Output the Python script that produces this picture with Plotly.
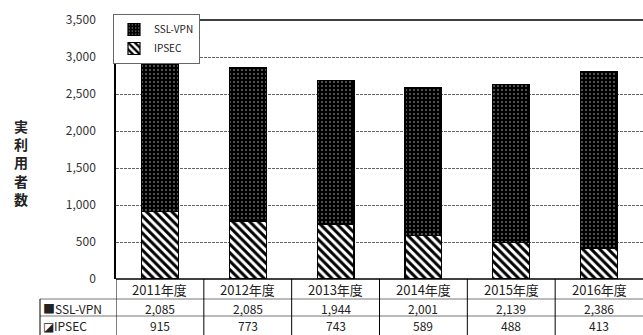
import plotly.graph_objects as go

# Fiscal years and actual user counts per connection type
years = ["2011年度", "2012年度", "2013年度", "2014年度", "2015年度", "2016年度"]
ssl_vpn = [2085, 2085, 1944, 2001, 2139, 2386]
ipsec = [915, 773, 743, 589, 488, 413]
y_ticks = [0, 500, 1000, 1500, 2000, 2500, 3000, 3500]

W, H = 643, 335
ML, MR, MT, MB = 116, 0, 20, 56
PW, PH = W - ML - MR, H - MT - MB

FONT = "Noto Sans CJK JP"


def py(px):
    """pixel row (from top of page) -> paper y"""
    return (H - MB - px) / PH


def px_x(px):
    """pixel column -> paper x"""
    return (px - ML) / PW


fig = go.Figure()

fig.add_trace(go.Bar(
    name="IPSEC", x=years, y=ipsec, width=0.42,
    marker=dict(
        color="white",
        line=dict(color="black", width=1.2),
        pattern=dict(shape="\\", fillmode="replace", bgcolor="white",
                     fgcolor="black", size=6, solidity=0.5),
    ),
))
fig.add_trace(go.Bar(
    name="SSL-VPN", x=years, y=ssl_vpn, width=0.42,
    marker=dict(
        color="black",
        line=dict(color="black", width=1.2),
        pattern=dict(shape=".", fillmode="replace", bgcolor="black",
                     fgcolor="#bbbbbb", size=4, solidity=0.12),
    ),
))

shapes = []
# table horizontal rules
shapes.append(dict(type="line", xref="paper", yref="paper", x0=0, x1=1,
                   y0=py(279), y1=py(279), line=dict(color="black", width=1.5)))
for r in (299, 316):
    shapes.append(dict(type="line", xref="paper", yref="paper", x0=px_x(40), x1=1,
                       y0=py(r), y1=py(r), line=dict(color="#777777", width=1)))
# table vertical rules at category boundaries
for i in range(len(years)):
    shapes.append(dict(type="line", xref="x", yref="paper", x0=i - 0.5, x1=i - 0.5,
                       y0=py(279), y1=py(H + 2), line=dict(color="black", width=1)))
# label column left edge
shapes.append(dict(type="line", xref="paper", yref="paper", x0=px_x(40), x1=px_x(40),
                   y0=py(299), y1=py(H + 2), line=dict(color="black", width=1)))
# top frame line
shapes.append(dict(type="line", xref="paper", yref="paper", x0=0, x1=1,
                   y0=1, y1=1, line=dict(color="black", width=1.5)))

annotations = []
for i, yr in enumerate(years):
    annotations.append(dict(x=yr, xref="x", y=py(289), yref="paper", yanchor="middle",
                            xanchor="center", text=yr, showarrow=False,
                            font=dict(size=13, color="#222")))
    annotations.append(dict(x=yr, xref="x", y=py(308), yref="paper", yanchor="middle",
                            xanchor="center", text=f"{ssl_vpn[i]:,}", showarrow=False,
                            font=dict(size=12, color="#222")))
    annotations.append(dict(x=yr, xref="x", y=py(325), yref="paper", yanchor="middle",
                            xanchor="center", text=f"{ipsec[i]:,}", showarrow=False,
                            font=dict(size=12, color="#222")))

annotations.append(dict(x=px_x(41), xref="paper", y=py(308), yref="paper",
                        xanchor="left", yanchor="middle",
                        text="■SSL-VPN", showarrow=False, font=dict(size=12, color="#222")))
annotations.append(dict(x=px_x(41), xref="paper", y=py(325), yref="paper",
                        xanchor="left", yanchor="middle",
                        text="◪IPSEC", showarrow=False, font=dict(size=12, color="#222")))

# vertical axis title
annotations.append(dict(x=px_x(21), xref="paper", y=py(162), yref="paper",
                        xanchor="center", yanchor="middle",
                        text="<b>実<br>利<br>用<br>者<br>数</b>", showarrow=False,
                        font=dict(size=14, color="#222"), align="center"))

fig.update_layout(
    width=W, height=H,
    margin=dict(l=ML, r=MR, t=MT, b=MB),
    barmode="stack",
    plot_bgcolor="white", paper_bgcolor="white",
    font=dict(family=FONT, size=11, color="#222"),
    showlegend=True,
    legend=dict(
        x=px_x(113), y=py(14), xanchor="left", yanchor="top",
        traceorder="reversed", bgcolor="white",
        bordercolor="#666666", borderwidth=1,
        font=dict(size=10), itemwidth=30, tracegroupgap=0,
    ),
    shapes=shapes,
    annotations=annotations,
    bargap=0.58,
)

fig.update_xaxes(
    showticklabels=False, showgrid=False, showline=False, zeroline=False,
    range=[-0.5, len(years) - 0.5],
)
fig.update_yaxes(
    range=[0, 3500], tickvals=y_ticks, tickformat=",",
    showgrid=True, gridcolor="#666666", griddash="3px,1px", gridwidth=1,
    showline=True, linecolor="black", linewidth=1.5,
    zeroline=False, ticks="", ticklabelstandoff=16,
    tickfont=dict(size=12, color="#333"),
)

fig.write_html("out.html")
